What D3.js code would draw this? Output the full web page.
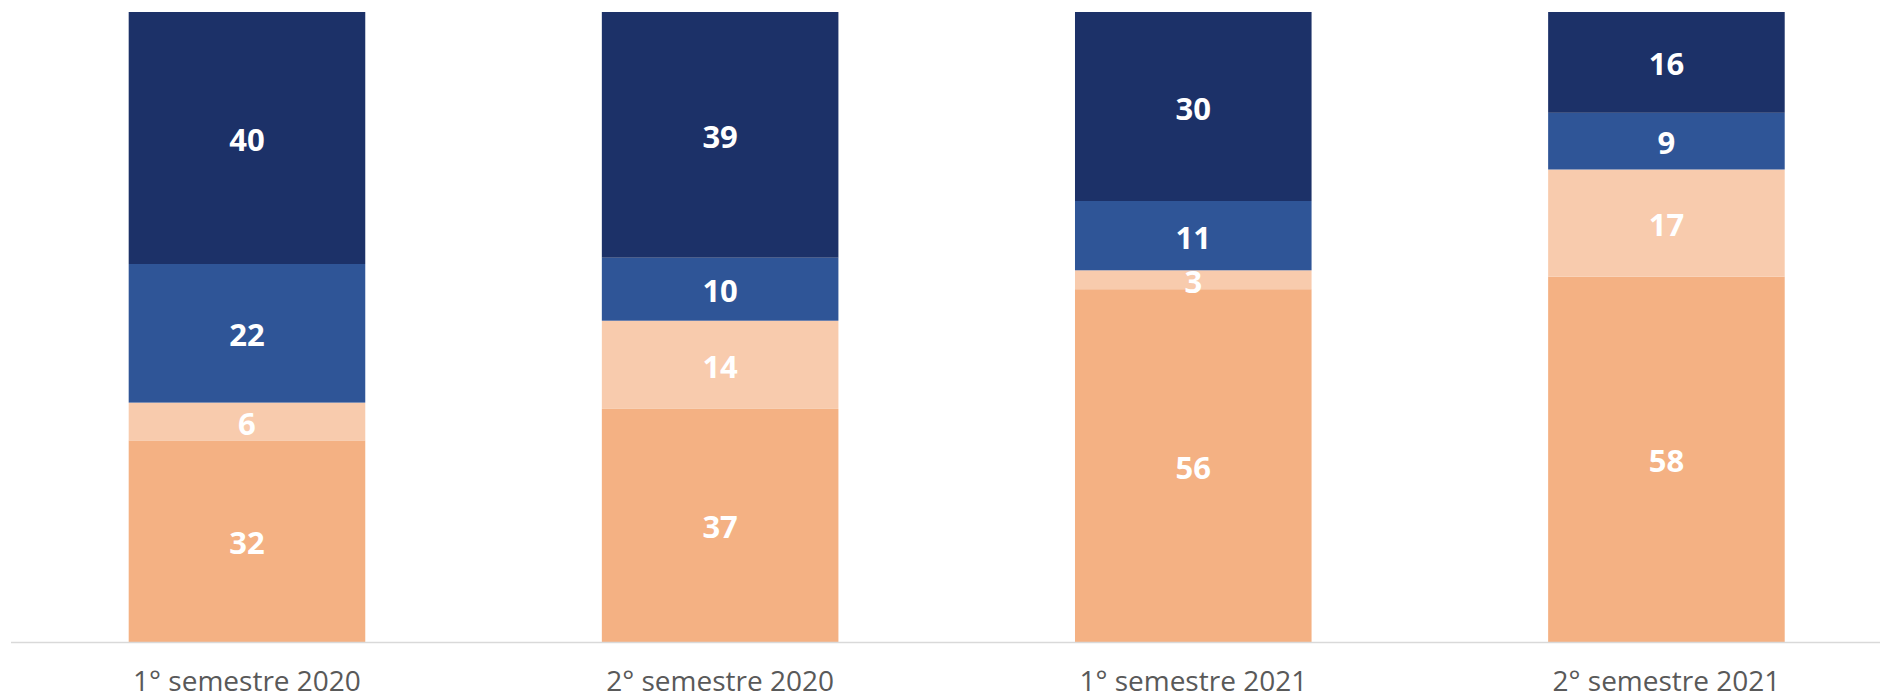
<!DOCTYPE html>
<html><head><meta charset="utf-8">
<script src="https://cdn.jsdelivr.net/npm/d3@7"></script>
<style>html,body{margin:0;padding:0;background:#fff;}svg{display:block;}</style>
</head><body>
<svg id="c" width="1880" height="698"></svg>
<script>
const categories = ["1° semestre 2020","2° semestre 2020","1° semestre 2021","2° semestre 2021"];
const seriesNames = ["s1","s2","s3","s4"];
const s1 = [32, 37, 56, 58];
const s2 = [6, 14, 3, 17];
const s3 = [22, 10, 11, 9];
const s4 = [40, 39, 30, 16];
const colors = ["#F4B183","#F8CBAD","#2F5597","#1C3168"];

const svg = d3.select("#c");
const rows = categories.map((c,i)=>({cat:c, s1:s1[i], s2:s2[i], s3:s3[i], s4:s4[i]}));
const stack = d3.stack().keys(seriesNames)(rows);

const x = d3.scaleBand().domain(categories).range([10.4, 1903]).paddingInner(0.5).paddingOuter(0.25);
const y = d3.scaleLinear().domain([0,100]).range([642, 12]);

const g = svg.append("g");
stack.forEach((layer,li)=>{
  g.selectAll(null).data(layer).enter().append("rect")
    .attr("x", d=>x(d.data.cat))
    .attr("width", x.bandwidth())
    .attr("y", d=>y(d[1]))
    .attr("height", d=>y(d[0])-y(d[1]))
    .attr("fill", colors[li]);
});
stack.forEach((layer,li)=>{
  g.selectAll(null).data(layer).enter().append("text")
    .attr("x", d=>x(d.data.cat)+x.bandwidth()/2)
    .attr("y", d=>(y(d[0])+y(d[1]))/2)
    .attr("dy","0.42em")
    .attr("text-anchor","middle")
    .attr("font-family","'Open Sans', sans-serif")
    .attr("font-weight","bold")
    .attr("font-size","31px")
    .attr("fill","#fff")
    .text(d=>d[1]-d[0]);
});

svg.append("line").attr("x1",11).attr("x2",1880).attr("y1",642.5).attr("y2",642.5)
  .attr("stroke","#D9D9D9").attr("stroke-width",1.5);

const xAxis = d3.axisBottom(x).tickSize(0).tickPadding(0);
const ax = svg.append("g").attr("transform","translate(0,642)").call(xAxis);
ax.select(".domain").remove();
ax.selectAll("text")
  .attr("y", 49).attr("dy","0")
  .attr("font-family","'Open Sans', sans-serif")
  .attr("font-size","28px")
  .attr("fill","#595959");
</script>
</body></html>
